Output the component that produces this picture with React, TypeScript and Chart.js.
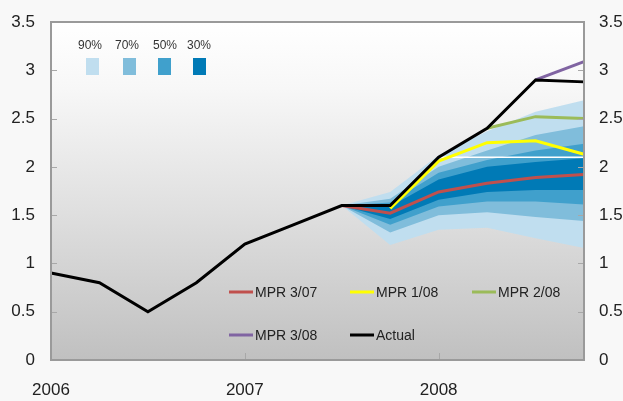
import { useEffect, useRef } from 'react';
import { Chart, registerables } from 'chart.js';

Chart.register(...registerables);

const categories = ['2006Q1', '2006Q2', '2006Q3', '2006Q4', '2007Q1', '2007Q2', '2007Q3', '2007Q4', '2008Q1', '2008Q2', '2008Q3', '2008Q4'];
const xTickLabels = ['2006', '', '', '', '2007', '', '', '', '2008', '', '', ''];
const yTickValues = [0, 0.5, 1, 1.5, 2, 2.5, 3, 3.5];

const actual = [0.9, 0.8, 0.5, 0.8, 1.2, 1.4, 1.6, 1.6, 2.1, 2.4, 2.9, 2.88];
const mpr307 = [null, null, null, null, null, null, 1.6, 1.52, 1.74, 1.83, 1.89, 1.92];
const mpr108 = [null, null, null, null, null, null, null, 1.57, 2.06, 2.25, 2.27, 2.13];
const mpr208 = [null, null, null, null, null, null, null, null, null, 2.4, 2.52, 2.5];
const mpr308 = [null, null, null, null, null, null, null, null, null, null, 2.9, 3.09];
const refLine = [null, null, null, null, null, null, null, null, 2.1, 2.1, 2.1, 2.1];

const band90Upper = [null, null, null, null, null, null, 1.6, 1.74, 2.12, 2.37, 2.57, 2.69];
const band70Upper = [null, null, null, null, null, null, 1.6, 1.67, 2.0, 2.17, 2.33, 2.42];
const band50Upper = [null, null, null, null, null, null, 1.6, 1.63, 1.94, 2.07, 2.17, 2.24];
const band30Upper = [null, null, null, null, null, null, 1.6, 1.59, 1.87, 2.0, 2.05, 2.09];
const band30Lower = [null, null, null, null, null, null, 1.6, 1.46, 1.66, 1.74, 1.76, 1.76];
const band50Lower = [null, null, null, null, null, null, 1.6, 1.4, 1.59, 1.64, 1.64, 1.61];
const band70Lower = [null, null, null, null, null, null, 1.6, 1.32, 1.5, 1.53, 1.48, 1.44];
const band90Lower = [null, null, null, null, null, null, 1.6, 1.19, 1.35, 1.37, 1.26, 1.16];

const bandLabels = ['90%', '70%', '50%', '30%'];
const bandColors = ['#c0deef', '#80bddb', '#40a0cc', '#007ab6'];

const lineLabels = ['MPR 3/07', 'MPR 1/08', 'MPR 2/08', 'MPR 3/08', 'Actual'];
const lineColors = ['#c0504d', '#ffff00', '#9bbb59', '#8064a2', '#000000'];

const FONT = '"Liberation Sans", Arial, sans-serif';

const backgroundPlugin = {
  id: 'bgPlugin',
  beforeDraw(chart: any) {
    const { ctx, chartArea, width, height } = chart;
    ctx.save();
    ctx.fillStyle = '#f8f8f8';
    ctx.fillRect(0, 0, width, height);
    const g = ctx.createLinearGradient(0, chartArea.top, 0, chartArea.bottom);
    g.addColorStop(0, '#ffffff');
    g.addColorStop(0.2, '#f7f7f7');
    g.addColorStop(0.55, '#e0e0e0');
    g.addColorStop(1, '#c0c0c0');
    ctx.fillStyle = g;
    ctx.fillRect(chartArea.left, chartArea.top, chartArea.right - chartArea.left, chartArea.bottom - chartArea.top);
    ctx.restore();
  },
};

const framePlugin = {
  id: 'framePlugin',
  afterDatasetsDraw(chart: any) {
    const { ctx, chartArea, scales } = chart;
    const { left, right, top, bottom } = chartArea;
    ctx.save();
    ctx.strokeStyle = '#a8a8a8';
    ctx.lineWidth = 1;
    yTickValues.forEach((v) => {
      const y = Math.round(scales.y.getPixelForValue(v)) + 0.5;
      ctx.beginPath();
      ctx.moveTo(left, y);
      ctx.lineTo(left + 6, y);
      ctx.moveTo(right - 6, y);
      ctx.lineTo(right, y);
      ctx.stroke();
    });
    xTickLabels.forEach((lab, i) => {
      if (!lab || i === 0) return;
      const x = Math.round(scales.x.getPixelForValue(i)) + 0.5;
      ctx.beginPath();
      ctx.moveTo(x, bottom);
      ctx.lineTo(x, bottom - 7);
      ctx.stroke();
    });
    ctx.strokeStyle = '#9a9a9a';
    ctx.lineWidth = 2;
    ctx.strokeRect(left, top, right - left, bottom - top);
    ctx.restore();
  },
};

const legendPlugin = {
  id: 'customLegend',
  afterDraw(chart: any) {
    const { ctx, chartArea } = chart;
    const { left, top } = chartArea;
    ctx.save();
    // fan chart legend
    const labelX = [39, 76, 114, 148];
    const boxX = [35, 72, 107, 142];
    ctx.font = `12px ${FONT}`;
    ctx.textAlign = 'center';
    ctx.textBaseline = 'middle';
    bandLabels.forEach((lab, i) => {
      ctx.fillStyle = '#333';
      ctx.fillText(lab, left + labelX[i], top + 24);
      ctx.fillStyle = bandColors[i];
      ctx.fillRect(left + boxX[i], top + 36, 13, 17);
    });
    // line legend
    const colX = [178, 299, 421];
    const rowY = [270, 313];
    ctx.font = `14px ${FONT}`;
    ctx.textAlign = 'left';
    lineLabels.forEach((lab, i) => {
      const col = i % 3;
      const row = Math.floor(i / 3);
      const x = left + colX[col];
      const y = top + rowY[row];
      ctx.strokeStyle = lineColors[i];
      ctx.lineWidth = 3;
      ctx.beginPath();
      ctx.moveTo(x, y);
      ctx.lineTo(x + 24, y);
      ctx.stroke();
      ctx.fillStyle = '#222';
      ctx.fillText(lab, x + 26, y + 1);
    });
    ctx.restore();
  },
};

function bandUpper(data: (number | null)[], target: number, color: string, order: number) {
  return {
    label: '',
    data,
    borderWidth: 0,
    borderColor: 'rgba(0,0,0,0)',
    backgroundColor: color,
    pointRadius: 0,
    fill: target,
    order,
    tension: 0,
  };
}

function bandLower(data: (number | null)[], order: number) {
  return {
    label: '',
    data,
    borderWidth: 0,
    borderColor: 'rgba(0,0,0,0)',
    backgroundColor: 'rgba(0,0,0,0)',
    pointRadius: 0,
    fill: false,
    order,
  };
}

function line(label: string, data: (number | null)[], color: string, order: number, width = 3) {
  return {
    label,
    data,
    borderColor: color,
    backgroundColor: color,
    borderWidth: width,
    pointRadius: 0,
    fill: false,
    order,
    tension: 0,
    borderJoinStyle: 'miter' as const,
  };
}

const fmt = (v: any) => String(Number(v));
const noPad = (s: any) => { s.paddingTop = 0; s.paddingBottom = 0; };

export default function App() {
  const ref = useRef<HTMLCanvasElement>(null);
  useEffect(() => {
    if (!ref.current) return;
    const chart = new Chart(ref.current, {
      type: 'line',
      data: {
        labels: categories,
        datasets: [
          bandUpper(band90Upper, 1, bandColors[0], 10),
          bandLower(band90Lower, 10),
          bandUpper(band70Upper, 3, bandColors[1], 9),
          bandLower(band70Lower, 9),
          bandUpper(band50Upper, 5, bandColors[2], 8),
          bandLower(band50Lower, 8),
          bandUpper(band30Upper, 7, bandColors[3], 7),
          bandLower(band30Lower, 7),
          line('', refLine, '#ffffff', 5, 1.5),
          line(lineLabels[0], mpr307, lineColors[0], 4),
          line(lineLabels[1], mpr108, lineColors[1], 3),
          line(lineLabels[2], mpr208, lineColors[2], 2),
          line(lineLabels[3], mpr308, lineColors[3], 1),
          line(lineLabels[4], actual, lineColors[4], 0),
        ] as any,
      },
      options: {
        animation: false,
        responsive: true,
        maintainAspectRatio: false,
        layout: { padding: { top: 22, left: 0, right: 0, bottom: 0 } },
        plugins: {
          legend: { display: false },
          tooltip: { enabled: false },
        },
        scales: {
          x: {
            type: 'category',
            offset: false,
            grid: { display: false, drawTicks: false },
            border: { display: false },
            ticks: {
              autoSkip: false,
              maxRotation: 0,
              padding: 20,
              color: '#222',
              font: { family: FONT, size: 17 },
              callback: (_v: any, i: number) => xTickLabels[i],
            },
            afterFit: (s: any) => { s.height = 41; s.paddingLeft = 0; s.paddingRight = 0; },
          },
          y: {
            position: 'left',
            min: 0,
            max: 3.5,
            grid: { display: false, drawTicks: false },
            border: { display: false },
            ticks: {
              stepSize: 0.5,
              padding: 16,
              color: '#222',
              font: { family: FONT, size: 17 },
              callback: fmt,
            },
            afterFit: (s: any) => { s.width = 51; noPad(s); },
          },
          y2: {
            position: 'right',
            display: true,
            min: 0,
            max: 3.5,
            grid: { display: false, drawTicks: false },
            border: { display: false },
            ticks: {
              stepSize: 0.5,
              padding: 15,
              color: '#222',
              font: { family: FONT, size: 17 },
              callback: fmt,
            },
            afterFit: (s: any) => { s.width = 39; noPad(s); },
          },
        },
      } as any,
      plugins: [backgroundPlugin, framePlugin, legendPlugin],
    });
    return () => chart.destroy();
  }, []);
  return (
    <div style={{ position: 'absolute', left: 0, top: 0, width: 623, height: 401, background: '#f8f8f8' }}>
      <canvas ref={ref} />
    </div>
  );
}
